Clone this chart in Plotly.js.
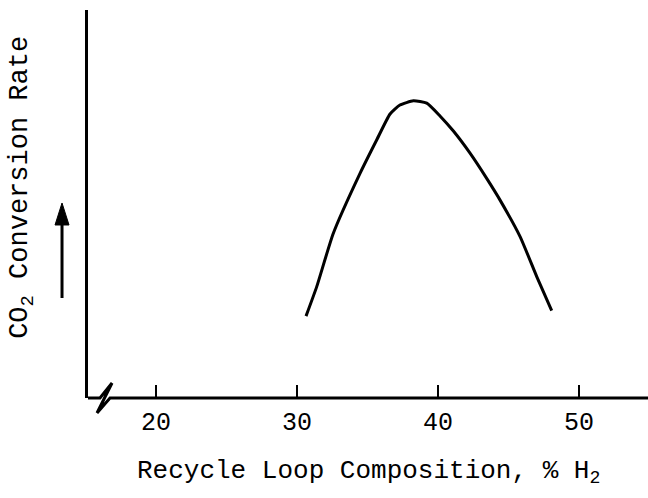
<!DOCTYPE html>
<html>
<head>
<meta charset="utf-8">
<script src="https://cdn.plot.ly/plotly-3.0.1.min.js"></script>
<style>html,body{margin:0;padding:0;background:#fff;}#chart{width:648px;height:498px;}</style>
</head>
<body>
<div id="chart"></div>
<script>
// Data (y in arbitrary relative units)
const h2Percent = [30.64, 31.40, 32.57, 34.47, 35.65, 36.60, 37.30, 38.25, 39.20, 40.14, 41.09, 42.27, 43.45, 44.40, 45.82, 47.00, 48.06];
const conversionRate = [2.11, 2.87, 4.24, 5.79, 6.65, 7.32, 7.55, 7.66, 7.60, 7.27, 6.88, 6.31, 5.66, 5.10, 4.16, 3.13, 2.25];
const xTickVals = [20, 30, 40, 50];
const xTickText = ["20", "30", "40", "50"];
const xTitle = "Recycle Loop Composition, % H<sub>2</sub>";
const yTitle = "CO<sub>2</sub> Conversion Rate";

const FONT = "Liberation Mono, Courier New, monospace";

const trace = {
  x: h2Percent,
  y: conversionRate,
  type: "scatter",
  mode: "lines",
  line: {color: "#000", width: 3, shape: "spline", smoothing: 0.5},
  hoverinfo: "skip"
};

const layout = {
  width: 648,
  height: 498,
  margin: {l: 88, r: 0, t: 10, b: 100},
  paper_bgcolor: "#fff",
  plot_bgcolor: "#fff",
  showlegend: false,
  xaxis: {
    range: [15.18, 54.89],
    tickvals: xTickVals,
    ticktext: xTickText,
    ticks: "inside",
    ticklen: 13,
    tickwidth: 2,
    tickcolor: "#000",
    ticklabelstandoff: 6,
    showline: false,
    showgrid: false,
    zeroline: false,
    tickfont: {family: FONT, size: 25, color: "#000"}
  },
  yaxis: {
    range: [0, 10],
    showline: true,
    linewidth: 3,
    linecolor: "#000",
    showticklabels: false,
    ticks: "",
    showgrid: false,
    zeroline: false
  },
  shapes: [
    // x axis line with break symbol
    {type: "path", xref: "paper", yref: "paper",
     path: "M 0,0 L 0.0214,0 L 0.0429,0.0387 L 0.0161,-0.0387 L 0.0393,0 L 1,0",
     line: {color: "#000", width: 3}, layer: "above"},
    // arrow next to y title
    {type: "line", xref: "paper", yref: "paper",
     x0: -0.0464, x1: -0.0464, y0: 0.2577, y1: 0.46,
     line: {color: "#000", width: 3}},
    {type: "path", xref: "paper", yref: "paper",
     path: "M -0.0464,0.5026 L -0.0589,0.4459 L -0.0339,0.4459 Z",
     fillcolor: "#000", line: {color: "#000", width: 1}}
  ],
  annotations: [
    {text: xTitle, xref: "paper", yref: "paper", x: 0.5, y: -0.19,
     xanchor: "center", yanchor: "middle", showarrow: false,
     font: {family: FONT, size: 26, color: "#000"}},
    {text: yTitle, xref: "paper", yref: "paper", x: -0.118, y: 0.544,
     xanchor: "center", yanchor: "middle", showarrow: false, textangle: -90,
     font: {family: FONT, size: 27, color: "#000"}}
  ]
};

Plotly.newPlot("chart", [trace], layout, {staticPlot: true, displayModeBar: false});
</script>
</body>
</html>
